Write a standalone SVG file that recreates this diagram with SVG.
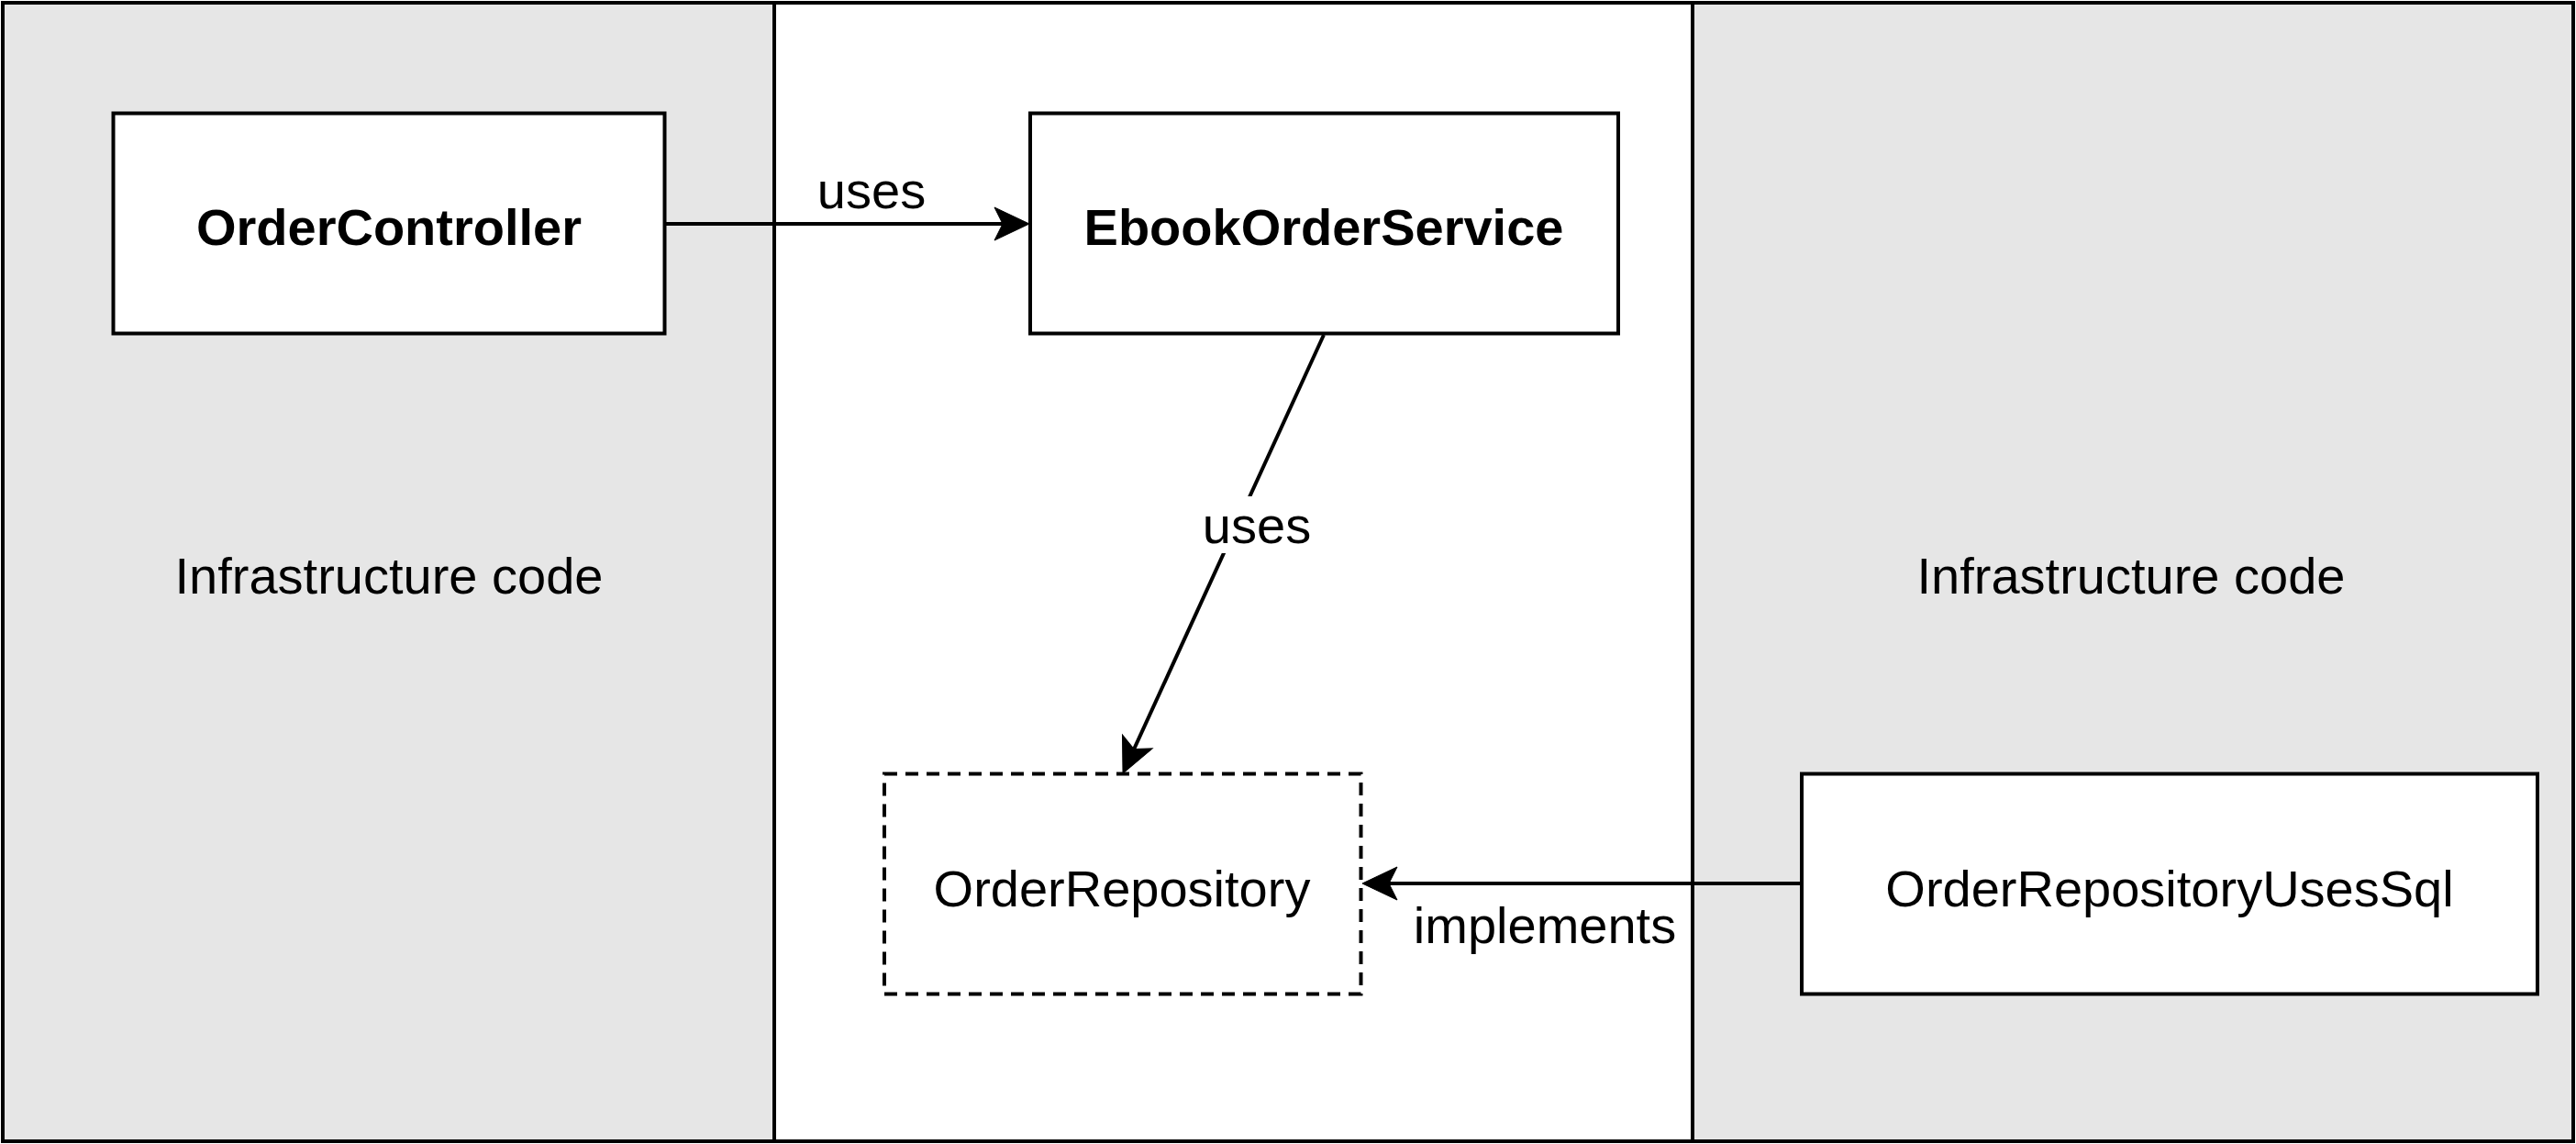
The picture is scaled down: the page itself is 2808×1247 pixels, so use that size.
<svg xmlns="http://www.w3.org/2000/svg" width="2808" height="1247" viewBox="0 0 2808 1247">
  <style>
    .panel { stroke: #000; stroke-width: 4; }
    .box { fill: #fff; stroke: #000; stroke-width: 4; }
    .dashed { fill: #fff; stroke: #000; stroke-width: 4; stroke-dasharray: 14 9; }
    .edge { fill: none; stroke: #000; stroke-width: 4; }
    text { font-family: "Liberation Sans", Arial, sans-serif; font-size: 56px; fill: #000; text-anchor: middle; }
    .bold { font-weight: bold; }
  </style>
  <defs>
    <marker id="arrow" markerUnits="userSpaceOnUse" markerWidth="50" markerHeight="50" refX="9" refY="0" orient="auto" overflow="visible">
      <path d="M 9 0 L 0 -18 L 38 0 L 0 18 Z" fill="#000" stroke="#000" stroke-width="1"/>
    </marker>
  </defs>

  <g id="panels">
    <rect id="panel-left" class="panel" x="3" y="3" width="841" height="1241" fill="#e6e6e6"/>
    <rect id="panel-middle" class="panel" x="844" y="3" width="1001" height="1241" fill="#ffffff"/>
    <rect id="panel-right" class="panel" x="1845" y="3" width="960" height="1241" fill="#e6e6e6"/>
    <text x="424" y="647">Infrastructure code</text>
    <text x="2323" y="647">Infrastructure code</text>
  </g>

  <g id="connectors">
    <g id="edge-controller-service">
      <line class="edge" x1="725" y1="244" x2="1093" y2="244" marker-end="url(#arrow)"/>
      <text x="950" y="227">uses</text>
    </g>
    <g id="edge-service-repository">
      <line class="edge" x1="1443" y1="365" x2="1236.1" y2="816.6" marker-end="url(#arrow)"/>
      <rect x="1306" y="541" width="128" height="62" fill="#fff"/>
      <text x="1370" y="592">uses</text>
    </g>
    <g id="edge-sql-repository">
      <line class="edge" x1="1964" y1="963" x2="1514" y2="963" marker-end="url(#arrow)"/>
      <text x="1684" y="1028">implements</text>
    </g>
  </g>

  <g id="node-order-controller">
    <rect class="box" x="123.5" y="123.5" width="601" height="240"/>
    <text class="bold" x="424" y="267">OrderController</text>
  </g>

  <g id="node-ebook-order-service">
    <rect class="box" x="1123" y="123.5" width="641" height="240"/>
    <text class="bold" x="1443" y="267">EbookOrderService</text>
  </g>

  <g id="node-order-repository">
    <rect class="dashed" x="964" y="843.5" width="519.5" height="240"/>
    <text x="1223" y="988">OrderRepository</text>
  </g>

  <g id="node-order-repository-uses-sql">
    <rect class="box" x="1964" y="843.5" width="802" height="240"/>
    <text x="2365" y="988">OrderRepositoryUsesSql</text>
  </g>
</svg>
